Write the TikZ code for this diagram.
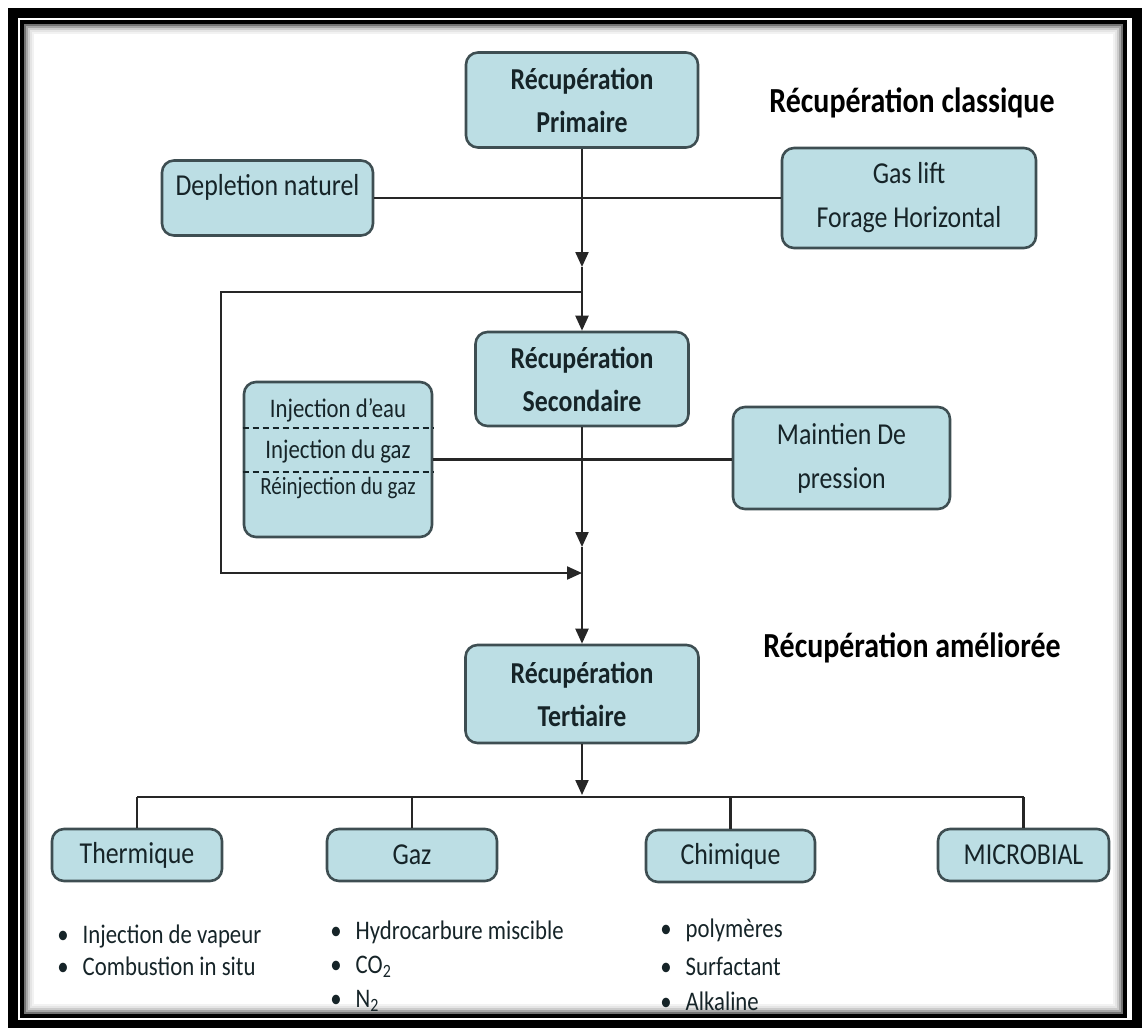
\documentclass[tikz,border=0pt]{standalone}
\usepackage{fontspec}
\setmainfont{Carlito}[FakeStretch=0.85]
\usetikzlibrary{arrows.meta}

\begin{document}
\begin{tikzpicture}[x=0.5pt,y=-0.5pt,
    box/.style={draw=boxedge,fill=boxfill,rounded corners=6pt,line width=1.3pt,
            text=boxtext,align=center,inner sep=0pt,font=\fontsize{15.2}{22}\selectfont},
    titre/.style={box,font=\bfseries\fontsize{15.2}{21.5}\selectfont},
    feuille/.style={box,minimum width=85pt,minimum height=26pt},
    ligne/.style={line width=1.1pt,draw=black!85},
    fleche/.style={ligne,-{Triangle[length=7.5pt,width=6.5pt]}},
    item/.style={anchor=west,inner sep=0pt,text=boxtext,font=\fontsize{13.4}{14}\selectfont},
    entete/.style={font=\bfseries\fontsize{17.6}{20}\selectfont}]

    \definecolor{boxfill}{RGB}{188,222,228}
    \definecolor{boxedge}{RGB}{62,78,82}
    \definecolor{boxtext}{RGB}{22,36,40}

    \newcommand{\puce}[4]{%
        \node[item] (#1) at (#2,#3) {\textbullet\hspace{7pt}#4};
    }

    \useasboundingbox (0,0) rectangle (1142,1028);

    % cadre
    \draw[line width=5pt] (13,13) rectangle (1137,1025);
    \draw[line width=2pt] (22,22) rectangle (1125,1016);
    \foreach \d/\c in {2/55,4/35,6/20,8/10,10/5}
    \draw[black!\c,line width=1pt] (23+\d,23+\d) rectangle (1124-\d,1015-\d);

    % recuperation classique
    \node[titre,minimum width=116pt,minimum height=47.5pt] (prim) at (582,100) {Récupération\\Primaire};
    \node[entete] (classique) at (912,103) {Récupération classique};
    \node[box,font=\fontsize{15.2}{13}\selectfont,minimum width=105.5pt,minimum height=37.5pt] (depl) at (267.5,198) {Depletion naturel\\~};
    \node[box,minimum width=127pt,minimum height=50pt] (gas) at (909,198) {Gas lift\\Forage Horizontal};

    \node[titre,minimum width=106.5pt,minimum height=47pt] (sec) at (582,379) {Récupération\\Secondaire};
    \node[box,minimum width=94pt,minimum height=77.5pt] (inj) at (338,459.5) {};
    \node[item,anchor=center] (eau) at (338,410) {Injection d’eau};
    \node[item,anchor=center] (gazinj) at (338,451) {Injection du gaz};
    \node[item,anchor=center,font=\fontsize{12.4}{14}\selectfont] (reinj) at (338,488) {Réinjection du gaz};
    \draw[boxtext,line width=1pt,dash pattern=on 3pt off 2pt] ([yshift=15.75pt]inj.west) -- ([yshift=15.75pt]inj.east);
    \draw[boxtext,line width=1pt,dash pattern=on 3pt off 2pt] ([yshift=-6.25pt]inj.west) -- ([yshift=-6.25pt]inj.east);
    \node[box,minimum width=108.5pt,minimum height=51pt] (maint) at (841.5,458) {Maintien De\\pression};

    % recuperation amelioree
    \node[titre,minimum width=116.5pt,minimum height=49pt] (ter) at (582,694) {Récupération\\Tertiaire};
    \node[entete] (amelioree) at (912,648) {Récupération améliorée};

    \node[feuille] (therm) at (137,855) {Thermique};
    \node[feuille] (gaz) at (412,855) {Gaz};
    \node[feuille,minimum width=84.5pt] (chim) at (730.5,856) {Chimique};
    \node[feuille,minimum width=85.5pt] (micro) at (1023.5,855) {MICROBIAL};

    \puce{vapeur}{57}{936}{Injection de vapeur}
    \puce{combustion}{57}{966}{Combustion in situ}
    \puce{hydro}{330}{932}{Hydrocarbure miscible}
    \puce{co}{330}{967}{CO\textsubscript{2}}
    \puce{azote}{330}{1001}{N\textsubscript{2}}
    \puce{poly}{660}{930}{polymères}
    \puce{surf}{660}{966}{Surfactant}
    \puce{alca}{660}{1001}{Alkaline}

    % liaisons
    \coordinate (p1) at (582,267);
    \coordinate (boucleH) at (582,292);
    \coordinate (boucleG) at (221,292);
    \coordinate (boucleB) at (221,573);
    \coordinate (jonction) at (582,573);
    \coordinate (p2) at (582,547);
    \coordinate (p3) at (582,795);
    \coordinate (bus) at (582,797);

    \draw[ligne] (depl.east) -- (depl.east -| gas.west);
    \draw[fleche] (prim.south) -- (p1);
    \draw[fleche] (p1) -- (sec.north);
    \draw[fleche] (boucleH) -- (boucleG) -- (boucleB) -- (jonction);
    \draw[ligne] (inj.east) -- (inj.east -| maint.west);
    \draw[fleche] (sec.south) -- (p2);
    \draw[fleche] (p2) -- (ter.north);
    \draw[fleche] (ter.south) -- (p3);
    \draw[ligne] (therm.north |- bus) -- (micro.north |- bus);
    \foreach \n in {therm,gaz,chim,micro}
    \draw[ligne] (\n.north) -- (\n.north |- bus);

\end{tikzpicture}
\end{document}
